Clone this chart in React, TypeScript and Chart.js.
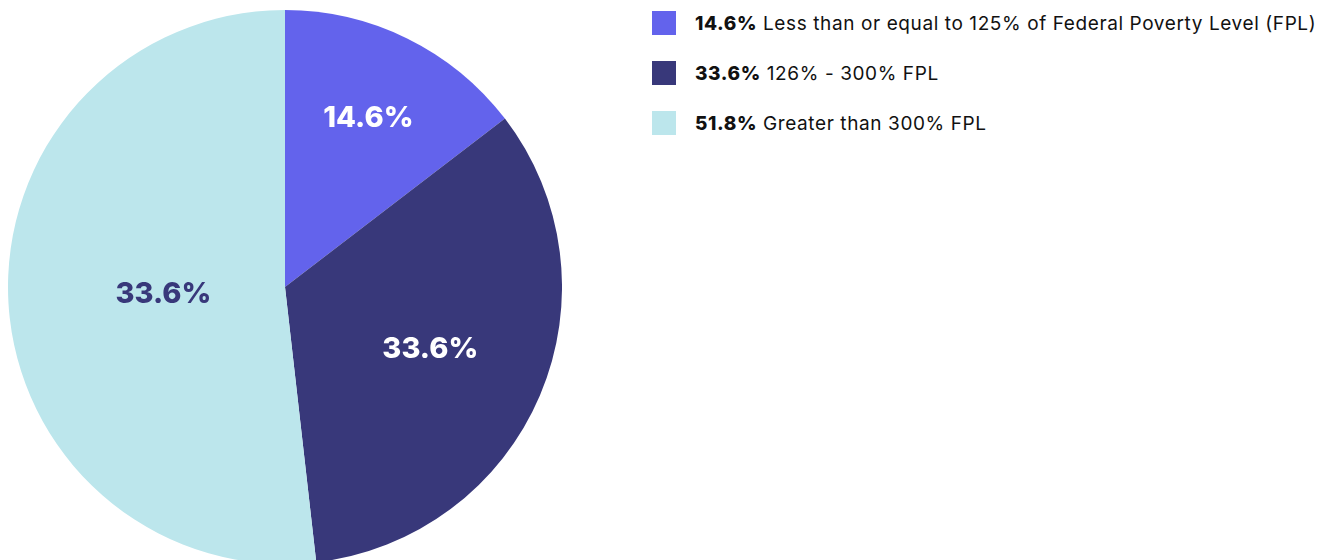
import React, { useEffect, useRef } from "react";
import { Chart, registerables } from "chart.js";

Chart.register(...registerables);

const categories = [
  "Less than or equal to 125% of Federal Poverty Level (FPL)",
  "126% - 300% FPL",
  "Greater than 300% FPL",
];
const values = [14.6, 33.6, 51.8];
const sliceLabels = ["14.6%", "33.6%", "33.6%"];
const legendValues = ["14.6%", "33.6%", "51.8%"];
const colors = ["#6363EC", "#38387A", "#BCE6EC"];
const labelColors = ["#FFFFFF", "#FFFFFF", "#38387A"];
const labelRadiusFractions = [0.68, 0.57, 0.44];

const FONT = "Inter, 'Open Sans', sans-serif";

const sliceLabelPlugin = {
  id: "sliceLabels",
  afterDatasetsDraw(chart: any) {
    const { ctx } = chart;
    const meta = chart.getDatasetMeta(0);
    ctx.save();
    ctx.font = `800 29px ${FONT}`;
    ctx.textAlign = "center";
    ctx.textBaseline = "middle";
    meta.data.forEach((arc: any, i: number) => {
      const { x, y, startAngle, endAngle, outerRadius } = arc.getProps(
        ["x", "y", "startAngle", "endAngle", "outerRadius"],
        true
      );
      const mid = (startAngle + endAngle) / 2;
      const r = outerRadius * labelRadiusFractions[i];
      ctx.fillStyle = labelColors[i];
      ctx.fillText(sliceLabels[i], x + Math.cos(mid) * r, y + Math.sin(mid) * r);
    });
    ctx.restore();
  },
};

export default function App() {
  const ref = useRef<HTMLCanvasElement>(null);
  useEffect(() => {
    if (!ref.current) return;
    const chart = new Chart(ref.current, {
      type: "pie",
      data: {
        labels: categories,
        datasets: [
          {
            data: values,
            backgroundColor: colors,
            borderWidth: 0,
          },
        ],
      },
      options: {
        animation: false,
        responsive: false,
        maintainAspectRatio: false,
        layout: { padding: 0 },
        plugins: {
          legend: { display: false },
          tooltip: { enabled: false },
        },
      },
      plugins: [sliceLabelPlugin],
    });
    return () => chart.destroy();
  }, []);

  return (
    <div style={{ display: "flex", alignItems: "flex-start" }}>
      <div style={{ width: 554, height: 558, flex: "none" }}>
        <canvas ref={ref} width={554} height={558} style={{ display: "block" }} />
      </div>
      <div
        style={{
          marginLeft: 90,
          marginTop: 3,
          fontFamily: FONT,
          fontSize: 19,
          letterSpacing: "0.6px",
          color: "#111",
          flex: "none",
        }}
      >
        {categories.map((c, i) => (
          <div key={c} style={{ display: "flex", alignItems: "center", height: 24, marginBottom: 26 }}>
            <span
              style={{
                width: 24,
                height: 24,
                background: colors[i],
                display: "inline-block",
                marginRight: 19,
                flex: "none",
              }}
            />
            <span style={{ whiteSpace: "nowrap" }}>
              <b style={{ fontWeight: 800 }}>{legendValues[i]}</b> {c}
            </span>
          </div>
        ))}
      </div>
    </div>
  );
}
